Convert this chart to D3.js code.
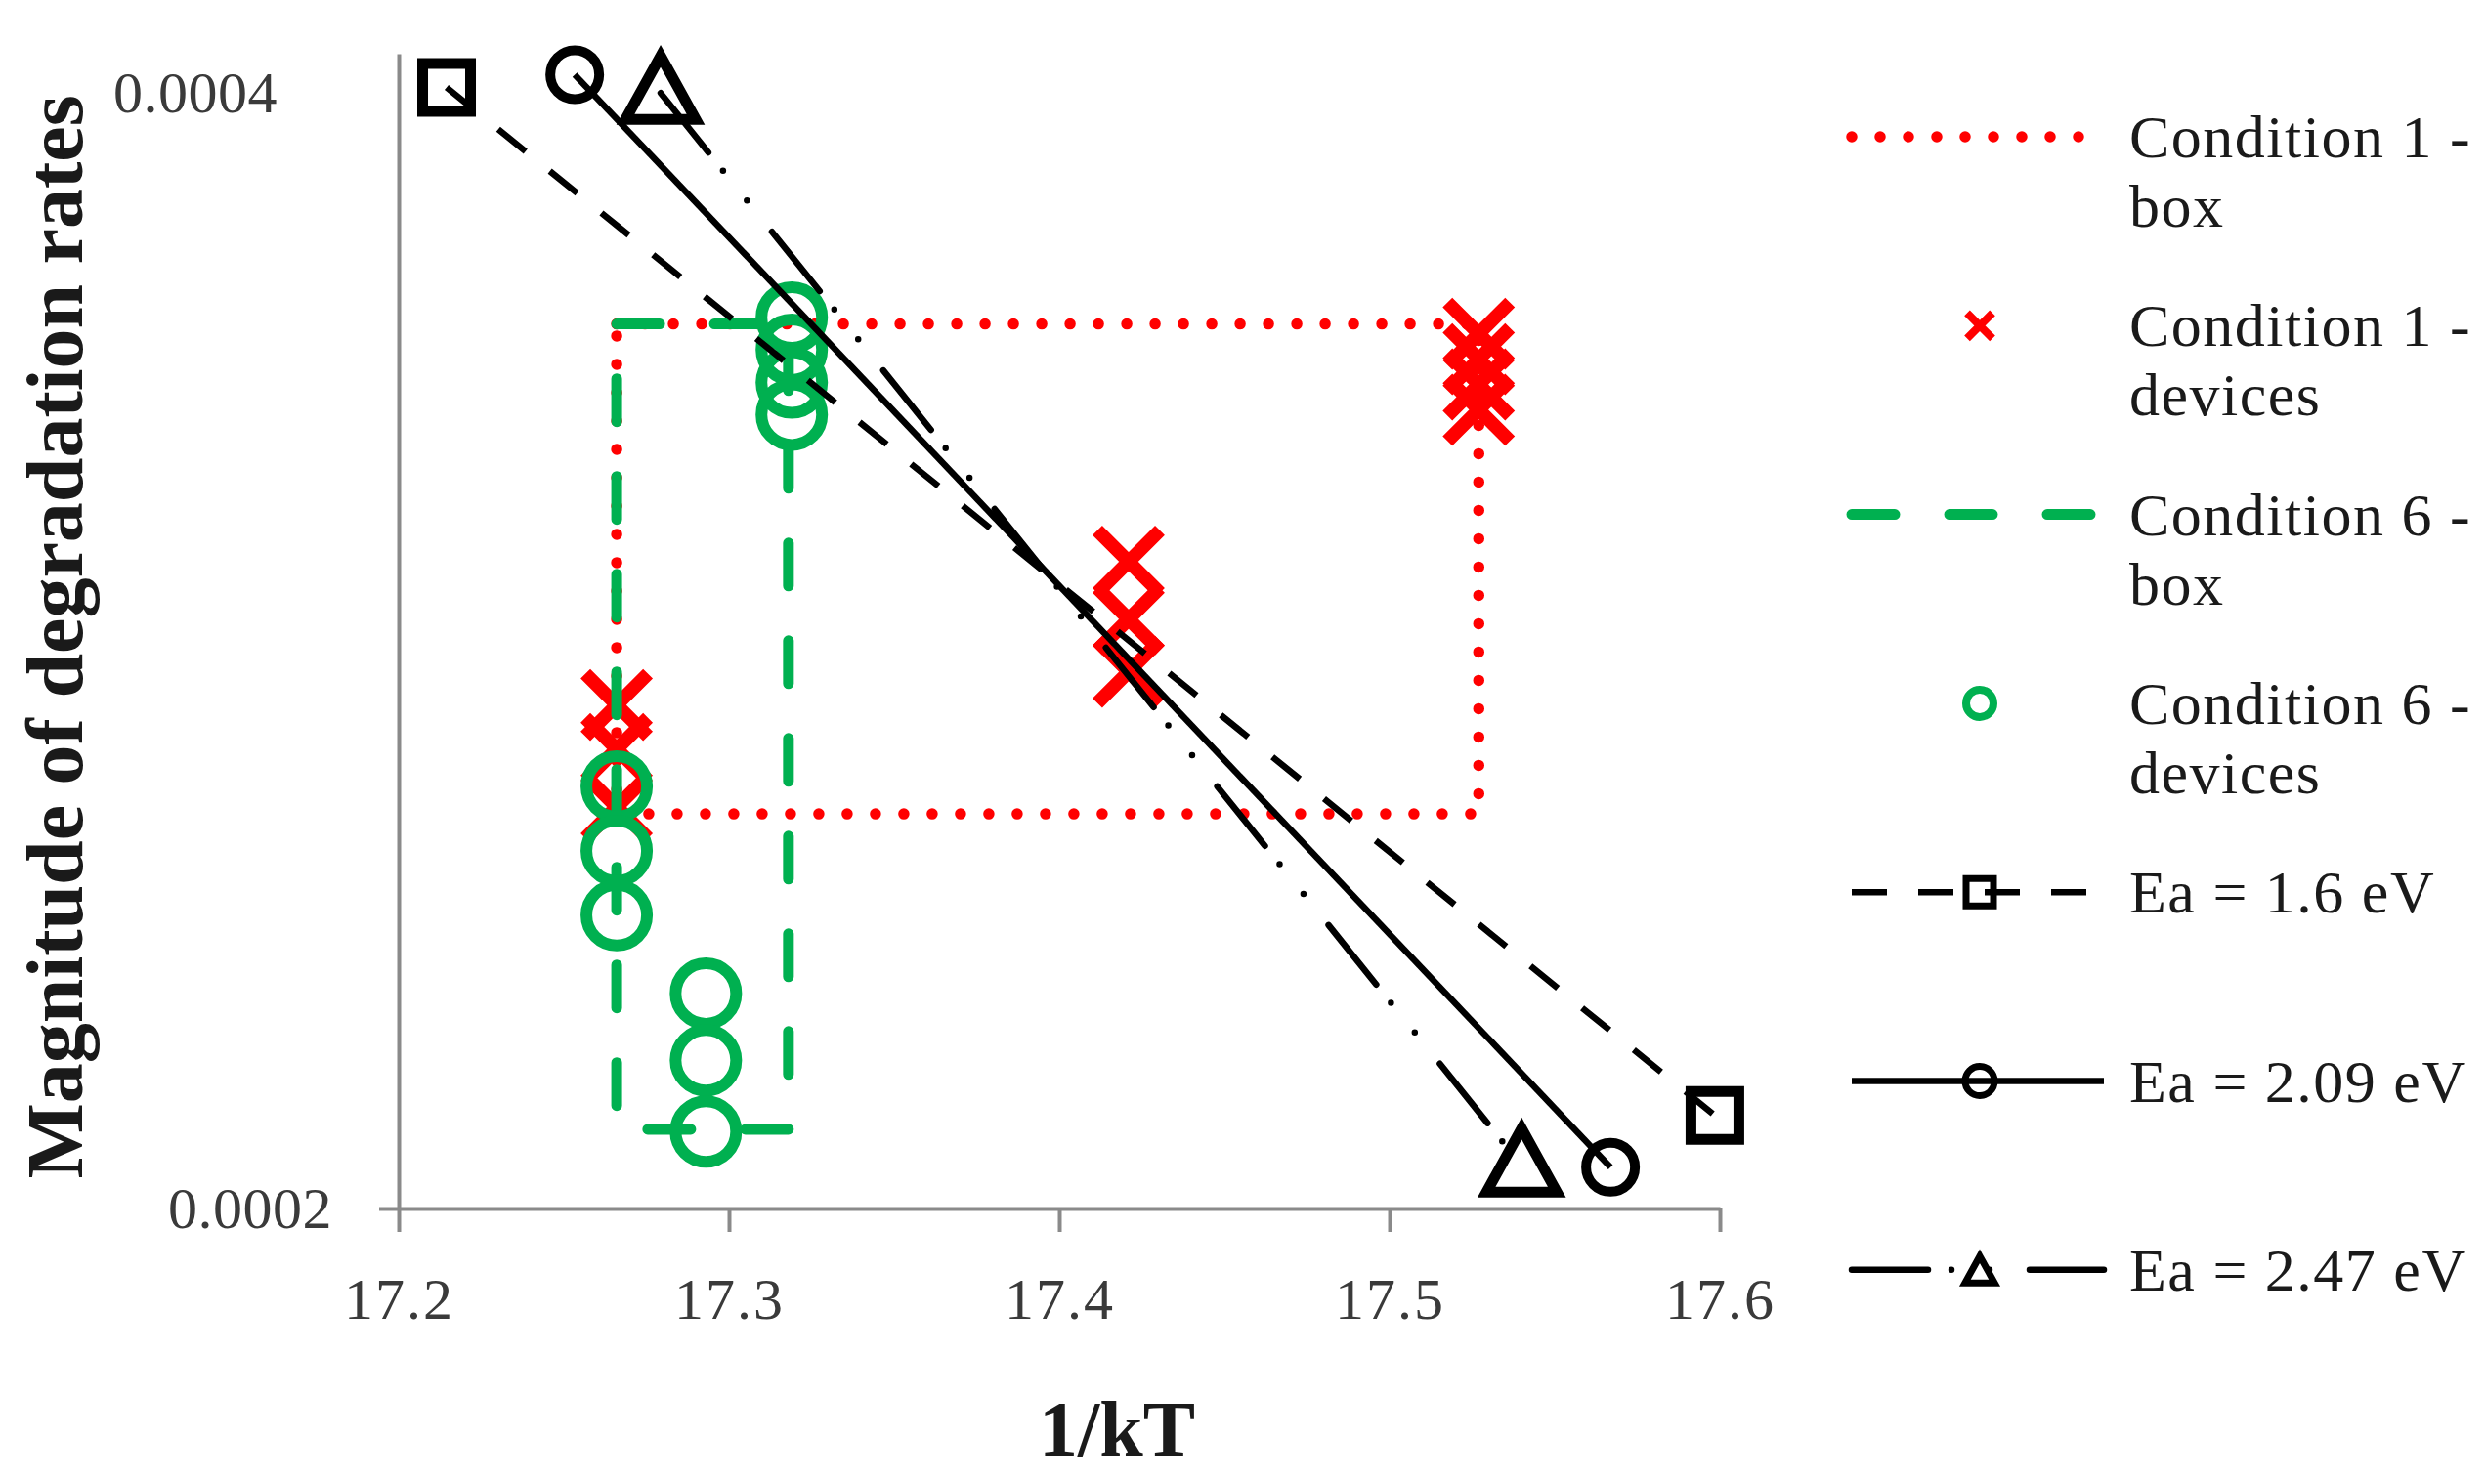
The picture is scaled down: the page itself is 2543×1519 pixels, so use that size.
<!DOCTYPE html>
<html><head><meta charset="utf-8">
<script src="https://cdn.jsdelivr.net/npm/d3@7"></script>
<style>body{margin:0;background:#fff}svg{display:block}</style>
</head><body>
<svg id="c" width="2543" height="1519"></svg>
<script>
// ---------- data ----------
const xTicks = [17.2, 17.3, 17.4, 17.5, 17.6];
const yTicks = [0.0002, 0.0004];

const cond1BoxX = [17.266, 17.527, 17.527, 17.266, 17.266];
const cond1BoxY = [0.0003466, 0.0003466, 0.0002556, 0.0002556, 0.0003466];

const cond1DevX = [17.266, 17.266, 17.266, 17.421, 17.421, 17.421, 17.527, 17.527, 17.527, 17.527];
const cond1DevY = [0.0002735, 0.0002661, 0.0002567, 0.0002990, 0.0002885, 0.0002792, 0.0003445, 0.0003391, 0.0003338, 0.0003286];

const cond6BoxX = [17.266, 17.318, 17.318, 17.266, 17.266];
const cond6BoxY = [0.0003466, 0.0003466, 0.0002101, 0.0002101, 0.0003466];

const cond6DevX = [17.266, 17.266, 17.266, 17.293, 17.293, 17.293, 17.319, 17.319, 17.319, 17.319];
const cond6DevY = [0.0002600, 0.0002498, 0.0002400, 0.0002286, 0.0002193, 0.0002098, 0.0003480, 0.0003411, 0.0003342, 0.0003276];

const ea16X = [17.2145, 17.5985];
const ea16Y = [0.0004015, 0.0002119];
const ea209X = [17.2533, 17.5669];
const ea209Y = [0.0004047, 0.0002052];
const ea247X = [17.2793, 17.5400];
const ea247Y = [0.0004001, 0.0002054];

const legendLabels = [
  ["Condition 1 -", "box"],
  ["Condition 1 -", "devices"],
  ["Condition 6 -", "box"],
  ["Condition 6 -", "devices"],
  ["Ea = 1.6 eV"],
  ["Ea = 2.09 eV"],
  ["Ea = 2.47 eV"]
];

// ---------- setup ----------
const RED = "#ff0000", GREEN = "#00b050", BLACK = "#000000", AXIS = "#8a8a8a";
const FONT = "'Liberation Serif', 'Times New Roman', serif";
const svg = d3.select("#c");
svg.append("rect").attr("width", 2543).attr("height", 1519).attr("fill", "#fff");

const x = d3.scaleLinear().domain([17.2, 17.6]).range([408, 1760]);
const y = d3.scaleLog().domain([0.0002, 0.00041]).range([1237, 55]);

const zip = (xs, ys) => xs.map((v, i) => [v, ys[i]]);
const line = d3.line().x(d => x(d[0])).y(d => y(d[1]));

// ---------- axes ----------
const gx = svg.append("g").attr("transform", `translate(0,${y(0.0002)})`)
  .call(d3.axisBottom(x).tickValues(xTicks).tickFormat(d3.format(".1f"))
    .tickSize(24).tickSizeOuter(0).tickPadding(46));
gx.select(".domain").attr("stroke", AXIS).attr("stroke-width", 4);
gx.selectAll(".tick line").attr("stroke", AXIS).attr("stroke-width", 4);
gx.selectAll(".tick text").attr("font-family", FONT).attr("font-size", 60)
  .attr("fill", "#3a3a3a").attr("letter-spacing", 2);

const gy = svg.append("g").attr("transform", `translate(${x(17.2)},0)`)
  .call(d3.axisLeft(y).tickValues(yTicks).tickFormat(d3.format(".4f"))
    .tickSize(20).tickSizeOuter(0).tickPadding(48));
gy.select(".domain").attr("stroke", AXIS).attr("stroke-width", 4);
gy.selectAll(".tick line").attr("stroke", AXIS).attr("stroke-width", 4)
  .attr("opacity", d => d === 0.0002 ? 1 : 0);
gy.selectAll(".tick text").attr("font-family", FONT).attr("font-size", 60)
  .attr("fill", "#3a3a3a").attr("letter-spacing", 0.5)
  .attr("dx", d => d === 0.0004 ? -56 : 0);

svg.append("text").text("1/kT").attr("x", 1143).attr("y", 1490)
  .attr("text-anchor", "middle").attr("font-family", FONT).attr("font-weight", "bold")
  .attr("font-size", 80).attr("fill", "#1a1a1a");
svg.append("text").text("Magnitude of degradation rates")
  .attr("transform", "translate(84,652) rotate(-90)")
  .attr("text-anchor", "middle").attr("font-family", FONT).attr("font-weight", "bold")
  .attr("font-size", 82).attr("fill", "#1a1a1a");

// ---------- marker shapes ----------
const xPath = s => `M${-s},${-s}L${s},${s}M${-s},${s}L${s},${-s}`;
const sqPath = s => `M${-s},${-s}H${s}V${s}H${-s}Z`;
const triPath = k => `M0,${-38 * k}L${36 * k},${27 * k}L${-36 * k},${27 * k}Z`;

const styles = {
  dots: { stroke: RED, width: 11.5, dash: "0,29", cap: "round" },
  dash: { stroke: GREEN, width: 11, dash: "44,56", cap: "round" },
  ea16: { stroke: BLACK, width: 6.5, dash: "36,32", cap: "butt" },
  ea209: { stroke: BLACK, width: 6.5, dash: null, cap: "butt" },
  ea247: { stroke: BLACK, width: 6.5, dash: "78,24,0,39,0,41", cap: "round" }
};
function applyLine(sel, st) {
  sel.attr("fill", "none").attr("stroke", st.stroke).attr("stroke-width", st.width)
    .attr("stroke-linecap", st.cap).attr("stroke-linejoin", "round");
  if (st.dash) sel.attr("stroke-dasharray", st.dash);
  return sel;
}

const plot = svg.append("g");

// Condition 1 box
applyLine(plot.append("path").attr("d", line(zip(cond1BoxX, cond1BoxY))), styles.dots);
// Condition 1 devices
plot.append("g").selectAll("path").data(zip(cond1DevX, cond1DevY)).join("path")
  .attr("transform", d => `translate(${x(d[0])},${y(d[1])})`)
  .attr("d", xPath(32)).attr("fill", "none").attr("stroke", RED).attr("stroke-width", 14);
// Condition 6 box
applyLine(plot.append("path").attr("d", line(zip(cond6BoxX, cond6BoxY))), styles.dash);
// Condition 6 devices
plot.append("g").selectAll("circle").data(zip(cond6DevX, cond6DevY)).join("circle")
  .attr("cx", d => x(d[0])).attr("cy", d => y(d[1])).attr("r", 31)
  .attr("fill", "none").attr("stroke", GREEN).attr("stroke-width", 12);

// Ea lines
applyLine(plot.append("path").attr("d", line(zip(ea16X, ea16Y))), styles.ea16);
plot.append("g").selectAll("path").data(zip(ea16X, ea16Y)).join("path")
  .attr("transform", d => `translate(${x(d[0])},${y(d[1])})`)
  .attr("d", sqPath(24.5)).attr("fill", "none").attr("stroke", BLACK).attr("stroke-width", 11);

applyLine(plot.append("path").attr("d", line(zip(ea209X, ea209Y))), styles.ea209);
plot.append("g").selectAll("circle").data(zip(ea209X, ea209Y)).join("circle")
  .attr("cx", d => x(d[0])).attr("cy", d => y(d[1])).attr("r", 25)
  .attr("fill", "none").attr("stroke", BLACK).attr("stroke-width", 10);

applyLine(plot.append("path").attr("d", line(zip(ea247X, ea247Y))), styles.ea247);
plot.append("g").selectAll("path").data(zip(ea247X, ea247Y)).join("path")
  .attr("transform", d => `translate(${x(d[0])},${y(d[1])})`)
  .attr("d", triPath(1)).attr("fill", "none").attr("stroke", BLACK).attr("stroke-width", 11)
  .attr("stroke-linejoin", "miter");

// ---------- legend ----------
const lgX0 = 1895, lgX1 = 2153, lgMid = 2026, lgTextX = 2179;
const lgTypes = ["dots", "x", "dash", "circle", "ea16", "ea209", "ea247"];
const lg = svg.append("g");
legendLabels.forEach((lab, i) => {
  const cy = 140 + i * 193.3;
  const g = lg.append("g");
  const t = lgTypes[i];
  if (styles[t]) {
    applyLine(g.append("path").attr("d", `M${lgX0},${cy}H${lgX1}`), styles[t]);
  }
  if (t === "x") {
    g.append("path").attr("transform", `translate(${lgMid},${cy})`).attr("d", xPath(13))
      .attr("fill", "none").attr("stroke", RED).attr("stroke-width", 8);
  } else if (t === "circle") {
    g.append("circle").attr("cx", lgMid).attr("cy", cy).attr("r", 14)
      .attr("fill", "none").attr("stroke", GREEN).attr("stroke-width", 8);
  } else if (t === "ea16") {
    g.append("path").attr("transform", `translate(${lgMid},${cy})`).attr("d", sqPath(14))
      .attr("fill", "none").attr("stroke", BLACK).attr("stroke-width", 7);
  } else if (t === "ea209") {
    g.append("circle").attr("cx", lgMid).attr("cy", cy).attr("r", 15)
      .attr("fill", "none").attr("stroke", BLACK).attr("stroke-width", 7);
  } else if (t === "ea247") {
    g.append("path").attr("transform", `translate(${lgMid},${cy + 2})`).attr("d", triPath(0.42))
      .attr("fill", "none").attr("stroke", BLACK).attr("stroke-width", 7).attr("stroke-linejoin", "miter");
  }
  lab.forEach((s, j) => {
    g.append("text").text(s).attr("x", lgTextX).attr("y", cy + 21 + j * 71)
      .attr("font-family", FONT).attr("font-size", 62).attr("fill", "#1a1a1a")
      .attr("letter-spacing", 1.5);
  });
});
</script>
</body></html>
